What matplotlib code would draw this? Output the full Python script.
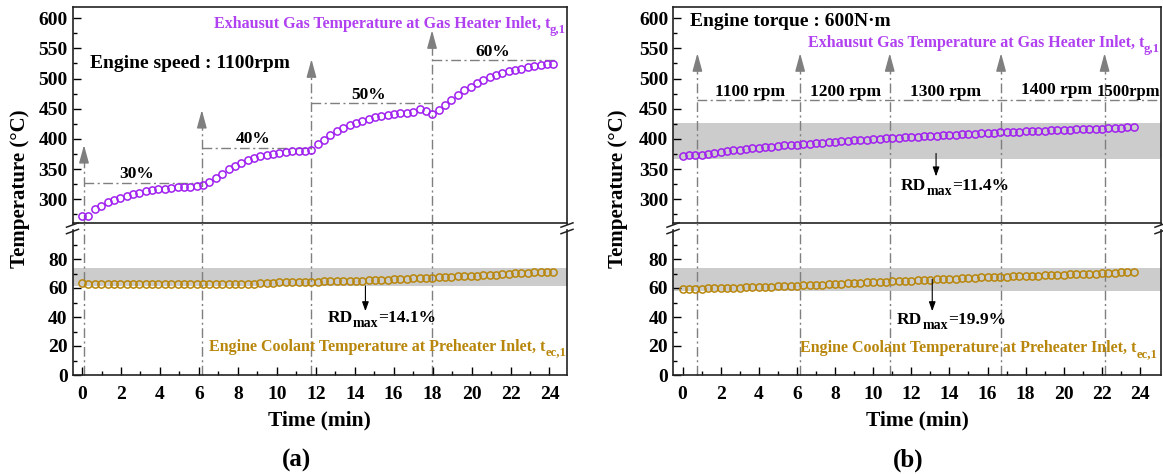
import numpy as np
import matplotlib
matplotlib.use("Agg")
import matplotlib.pyplot as plt
from matplotlib.lines import Line2D

plt.rcParams['font.family'] = ['Liberation Serif', 'DejaVu Serif']
plt.rcParams['font.weight'] = 'bold'

# ---- data (a): engine speed 1100 rpm, load steps ----
step_a = 0.327  # sampling step, min
gas_a = [273, 273, 284.6, 289.5, 295, 299, 303, 306, 309, 311, 313, 315,
         316.6, 317.7, 318.8, 320, 320.4, 321, 321.5, 323,
         328, 336, 342.5, 349.7, 355.8, 360, 364.6, 368, 371, 373.5, 375,
         376.8, 378, 379.6, 380, 380.7, 382.3,
         391, 399, 406.6, 412.7, 418, 422.7, 426.5, 430.4, 433, 436, 438,
         440, 441.4, 442.5, 443.6, 445.3, 449, 446.4, 442,
         448, 455.8, 465, 473.5, 480.7, 486.7, 492, 497.8, 502, 505.5,
         508.8, 512, 514.4, 516.6, 518.8, 520.4, 522, 523.8, 524.3]
coolant_a = [63.7,
             63.0, 62.9, 62.9, 62.8, 62.8, 62.8,
             62.7, 62.7, 62.7, 62.7, 62.7, 62.7,
             62.7, 62.8, 62.8, 62.9, 62.9, 63.0, 63.0,
             63.0, 63.0, 63.0, 63.0, 63.0, 63.0, 63.0, 63.1,
             63.2, 63.4, 63.6, 63.8, 63.9, 64.0, 64.1, 64.2, 64.3,
             64.4, 64.5, 64.6, 64.7, 64.8, 64.9, 65.0, 65.1, 65.3,
             65.4, 65.6, 65.8, 66.0, 66.2, 66.4, 66.6, 66.8, 67.0, 67.2,
             67.4, 67.6, 67.8, 68.0, 68.2, 68.4, 68.6, 68.8, 69.0,
             69.3, 69.6, 69.8, 70.1, 70.3, 70.5, 70.8, 71.0, 71.2, 71.3]
switch_a = [0.1, 6.15, 11.78, 17.97]
arrow_top_a = [390, 448, 532, 580]
level_a = [327.6, 385.6, 460, 530]
level_end_a = 24.3
load_labels = ['30%', '40%', '50%', '60%']
load_label_x = [2.8, 8.76, 14.7, 21.1]
load_label_y = [334.8, 392.8, 466, 537.6]

# ---- data (b): engine torque 600 N.m, speed steps ----
step_b = 1 / 3
gas_b = [372.5, 373, 373.5, 374, 375, 377, 378.5, 380, 381.5, 382.5, 383.5,
         384.5, 385.5, 386.5, 387.5, 388.5, 389.3, 390, 390.8, 391.6, 392.4,
         393.2, 394, 394.7, 395.4, 396.1, 396.8, 397.5, 398.2, 398.9, 399.6,
         400.3, 401, 401.6, 402.1, 402.6, 403.1, 403.6, 404.2, 404.8, 405.4,
         406, 406.5, 407, 407.6, 408.2, 408.7, 409.2, 409.7, 410.2, 410.7,
         411.2, 411.6, 412, 412.4, 412.9, 413.3, 413.7, 414.1, 414.5, 414.9,
         415.3, 415.7, 416.1, 416.5, 416.9, 417.3, 417.8, 418.3, 418.8,
         419.3, 419.8]
coolant_b = [59.3, 59.4, 59.5, 59.6, 59.7, 59.8, 60.0, 60.1, 60.2, 60.3,
             60.4, 60.6, 60.7, 60.8, 61.0, 61.1, 61.2, 61.4,
             61.6, 61.8, 62.0, 62.2, 62.4, 62.6, 62.8, 63.0, 63.2, 63.4,
             63.6, 63.8, 64.0, 64.2, 64.4, 64.6, 64.8, 64.9,
             65.1, 65.3, 65.5, 65.7, 65.9, 66.1, 66.3, 66.5, 66.7, 66.9,
             67.1, 67.3, 67.5, 67.6, 67.8, 67.9, 68.0, 68.2,
             68.3, 68.5, 68.6, 68.8, 68.9, 69.1, 69.2, 69.4, 69.5, 69.7,
             69.8, 70.0, 70.2, 70.4, 70.6, 70.8, 71.0, 71.2]
switch_b = [0.78, 6.17, 10.87, 16.71, 22.14]
arrow_top_b = [542, 542, 542, 542, 542]
level_b = 464.6
speed_labels = ['1100 rpm', '1200 rpm', '1300 rpm', '1400 rpm', '1500rpm']
speed_label_x = [3.54, 8.56, 13.8, 19.6, 25.08]
speed_label_y = [471, 471, 471, 474.6, 471]

GAS_C = '#A020F0'
GAS_TXT = '#B040F0'
COOL_C = '#B8860B'
GRAY = '#7F7F7F'
BAND = '#CCCCCC'
W, H = 1163, 474
DASHDOT = (0, (7, 2.5, 1.5, 2.5))

fig = plt.figure(figsize=(W / 100, H / 100), dpi=100)
renderer = fig.canvas.get_renderer()


def rect(x0, x1, ytop, ybot):
    return [x0 / W, (H - ybot) / H, (x1 - x0) / W, (ybot - ytop) / H]


def rich_text(ax, x, y, pieces, size, color='black', ha='left'):
    # pieces: list of (string, is_subscript); subscripts are big and low
    # like in the Origin figure, so they are placed by hand
    widths = []
    for s, sub in pieces:
        tmp = fig.text(0, 0, s, fontsize=size * (0.8 if sub else 1))
        widths.append(tmp.get_window_extent(renderer).width)
        tmp.remove()
    off = -sum(widths) if ha == 'right' else 0
    for (s, sub), w in zip(pieces, widths):
        dy = -0.3 * size * 100 / 72 if sub else 0
        ax.annotate(s, xy=(x, y), xytext=(off, dy),
                    textcoords='offset pixels', ha='left', va='baseline',
                    fontsize=size * (0.8 if sub else 1), color=color)
        off += w


def style_axes(ax, top):
    for s in ax.spines.values():
        s.set_linewidth(1.2)
        s.set_color('#222222')
    ax.tick_params(which='both', direction='in', labelsize=14,
                   top=False, right=False)
    ax.tick_params(which='major', length=6, width=1)
    ax.tick_params(which='minor', length=3, width=1)
    ax.tick_params(axis='x', pad=8)
    if top:
        ax.tick_params(axis='x', which='both', bottom=False,
                       labelbottom=False)
    else:
        ax.spines['top'].set_visible(False)


def break_marks(x_left, x_right):
    for xp in (x_left, x_right):
        for yp in (225, 231.5):
            fig.add_artist(Line2D([(xp - 6) / W, (xp + 6) / W],
                                  [(H - yp - 2.2) / H, (H - yp + 2.2) / H],
                                  color='#222222', lw=1.1))


def down_arrow(ax, x, y0, y1):
    ax.annotate('', xy=(x, y1), xytext=(x, y0),
                arrowprops=dict(arrowstyle='-|>,head_length=0.7,'
                                'head_width=0.25',
                                mutation_scale=8, color='black', lw=0.8,
                                shrinkA=0, shrinkB=0))


def panel(x0, x1, xlim, t, gas, cool, switches, tips, gas_band, cool_band):
    ax_t = fig.add_axes(rect(x0, x1, 7.3, 223.5))
    ax_b = fig.add_axes(rect(x0, x1, 230, 375))
    ax_t.set_xlim(*xlim)
    ax_b.set_xlim(*xlim)
    ax_t.set_ylim(260, 618)
    ax_b.set_ylim(0, 100)
    ax_t.set_yticks([300, 350, 400, 450, 500, 550, 600])
    ax_t.set_yticks(np.arange(275, 618, 25), minor=True)
    ax_b.set_yticks([0, 20, 40, 60, 80])
    ax_b.set_yticks([10, 30, 50, 70, 90], minor=True)
    ax_b.set_xticks(np.arange(0, 25, 2))
    ax_b.set_xticks(np.arange(1, 25, 2), minor=True)
    style_axes(ax_t, True)
    style_axes(ax_b, False)

    if gas_band is not None:
        ax_t.axhspan(*gas_band, color=BAND, lw=0, zorder=0)
    ax_b.axhspan(*cool_band, color=BAND, lw=0, zorder=0)

    for xs, tip in zip(switches, tips):
        ax_b.plot([xs, xs], [0, 104.6], color=GRAY, lw=1,
                  linestyle=DASHDOT, clip_on=False, zorder=1)
        ax_t.plot([xs, xs], [260, tip - 12], color=GRAY, lw=1,
                  linestyle=DASHDOT, zorder=1)
        ax_t.annotate('', xy=(xs, tip), xytext=(xs, tip - 24),
                      arrowprops=dict(arrowstyle='-|>,head_length=1.1,'
                                      'head_width=0.3',
                                      mutation_scale=10, color=GRAY, lw=1,
                                      shrinkA=0, shrinkB=0))

    ax_t.plot(t, gas, 'o', mfc='none', mec=GAS_C, ms=5.2, mew=1.1,
              zorder=3)
    ax_b.plot(t, cool, 'o', mfc='none', mec=COOL_C, ms=5.2, mew=1.1,
              zorder=3)
    return ax_t, ax_b


GAS_LABEL = [('Exhausut Gas Temperature at Gas Heater Inlet, t', False),
             ('g,1', True)]
COOL_LABEL = [('Engine Coolant Temperature at Preheater Inlet, t', False),
              ('ec,1', True)]

# ---------- panel (a) ----------
t_a = np.arange(len(gas_a)) * step_a
ta, ba = panel(72.5, 567, (-0.49, 24.9), t_a, gas_a, coolant_a,
               switch_a, arrow_top_a, None, (61.4, 73.6))
ends = switch_a[1:] + [level_end_a]
for xs, xe, lv in zip(switch_a, ends, level_a):
    ta.plot([xs, xe], [lv, lv], color=GRAY, lw=1, linestyle=DASHDOT)
for lab, lx, ly in zip(load_labels, load_label_x, load_label_y):
    ta.text(lx, ly, lab, ha='center', va='baseline', fontsize=12.5)
ta.text(0.39, 518, 'Engine speed : 1100rpm', fontsize=14,
        va='baseline')
rich_text(ta, 24.85, 583, GAS_LABEL, 11.5, GAS_TXT, ha='right')
rich_text(ba, 24.85, 16.8, COOL_LABEL, 11.5, COOL_C, ha='right')
down_arrow(ba, 14.55, 61.4, 44)
rich_text(ba, 12.6, 36.8, [('RD', False), ('max', True), ('=14.1%', False)],
          12.5)
break_marks(72.5, 567)

# ---------- panel (b) ----------
t_b = np.arange(len(gas_b)) * step_b
tb, bb = panel(673, 1161, (-0.5, 25.1), t_b, gas_b, coolant_b,
               switch_b, arrow_top_b, (367, 426), (58, 73.6))
tb.plot([switch_b[0], 25.1], [level_b, level_b], color=GRAY, lw=1,
        linestyle=DASHDOT)
for i, (lab, lx, ly) in enumerate(zip(speed_labels, speed_label_x,
                                      speed_label_y)):
    tb.text(lx, ly, lab, ha='right' if i == 4 else 'center',
            va='baseline', fontsize=12 if i == 4 else 12.5)
tb.text(0.4, 587, 'Engine torque : 600N\u00b7m', fontsize=14,
        va='baseline')
rich_text(tb, 25.05, 552, GAS_LABEL, 11.5, GAS_TXT, ha='right')
rich_text(bb, 24.9, 15.6, COOL_LABEL, 11.5, COOL_C, ha='right')
down_arrow(tb, 13.3, 376, 338)
rich_text(tb, 11.46, 315.5, [('RD', False), ('max', True),
                             ('=11.4%', False)], 12.5)
down_arrow(bb, 13.1, 66, 44)
rich_text(bb, 11.25, 35.2, [('RD', False), ('max', True),
                            ('=19.9%', False)], 12.5)
break_marks(673, 1161)

# ---------- labels ----------
for xc, yl_x in ((319.5, 20), (917, 618)):
    fig.text(yl_x / W, (H - 189) / H, 'Temperature (\u00b0C)', rotation=90,
             ha='center', va='center', fontsize=15)
    fig.text(xc / W, (H - 420) / H, 'Time (min)', ha='center',
             va='center', fontsize=15.5)
fig.text(296 / W, (H - 460) / H, '(a)', ha='center', va='center',
         fontsize=18)
fig.text(908 / W, (H - 460) / H, '(b)', ha='center', va='center',
         fontsize=18)

fig.savefig('out.png', dpi=100)
